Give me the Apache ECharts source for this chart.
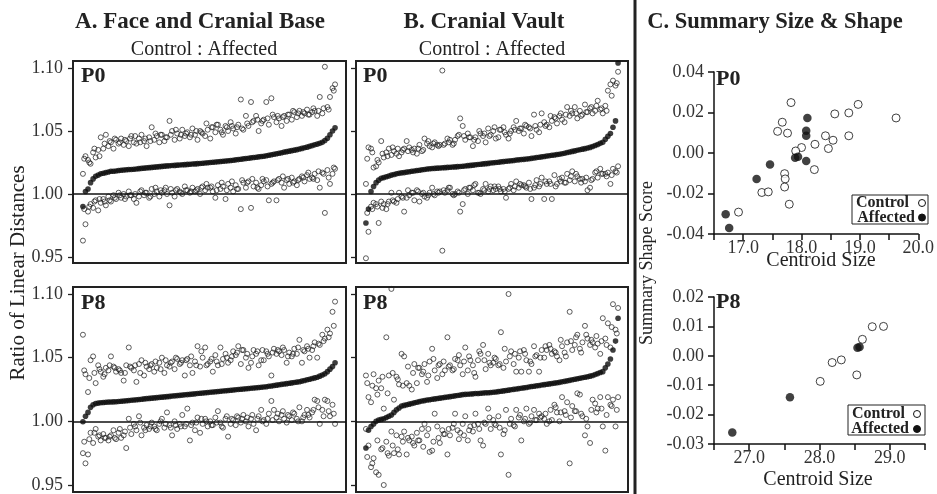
<!DOCTYPE html>
<html>
<head>
<meta charset="utf-8">
<script src="https://cdn.jsdelivr.net/npm/echarts@6/dist/echarts.min.js"></script>
<style>
html,body{margin:0;padding:0;background:#fff;}
#chart{width:937px;height:494px;}
</style>
</head>
<body>
<div id="chart"></div>
<script>
// ---------- Panel A (Face and Cranial Base), P0 ----------
var A0_upper = [1.016,1.030,1.027,1.024,1.033,1.029,1.035,1.045,1.036,1.047,
1.038,1.041,1.036,1.043,1.040,1.044,1.039,1.042,1.038,1.046,
1.041,1.040,1.044,1.047,1.042,1.038,1.045,1.053,1.043,1.046,
1.041,1.047,1.042,1.045,1.058,1.050,1.043,1.048,1.044,1.051,
1.046,1.049,1.045,1.052,1.047,1.043,1.050,1.048,1.046,1.051,
1.044,1.053,1.049,1.055,1.051,1.047,1.054,1.050,1.057,1.052,
1.048,1.055,1.075,1.051,1.062,1.054,1.073,1.058,1.062,1.050,
1.056,1.059,1.073,1.055,1.076,1.061,1.057,1.060,1.054,1.062,
1.058,1.063,1.059,1.065,1.061,1.066,1.062,1.064,1.067,1.063,
1.065,1.066,1.062,1.077,1.064,1.101,1.069,1.077,1.084,1.087];
var A0_upper_b = [1.028,1.025,1.036,1.030,1.040,1.042,1.044,1.041,1.043,1.044,
1.046,1.041,1.044,1.042,1.048,1.047,1.045,1.047,1.051,1.047,
1.048,1.047,1.050,1.049,1.056,1.053,1.055,1.049,1.053,1.054,
1.053,1.052,1.056,1.057,1.059,1.058,1.060,1.063,1.062,1.061,
1.063,1.066,1.064,1.065,1.063,1.068,1.066,1.068,1.067,1.082];
var A0_mid = [0.990,1.002,1.004,1.009,1.012,1.014,1.015,1.016,1.0165,1.017,
1.0175,1.018,1.018,1.0183,1.0186,1.0188,1.019,1.0192,1.0194,1.0195,
1.0197,1.0199,1.0201,1.0203,1.0205,1.0207,1.0209,1.0211,1.0213,1.0215,
1.0217,1.0219,1.0221,1.0223,1.0224,1.0226,1.0227,1.0229,1.023,1.0232,
1.0233,1.0235,1.0236,1.0238,1.0239,1.0241,1.0242,1.0244,1.0246,1.0248,
1.025,1.0252,1.0254,1.0256,1.0258,1.026,1.0262,1.0264,1.0266,1.0268,
1.0271,1.0273,1.0276,1.0279,1.0281,1.0284,1.0287,1.029,1.0292,1.0295,
1.0298,1.03,1.0303,1.0307,1.0311,1.0315,1.0319,1.0323,1.0327,1.0332,
1.0336,1.034,1.0344,1.0348,1.0352,1.0357,1.0362,1.0367,1.0372,1.0378,
1.0384,1.039,1.0396,1.0402,1.041,1.0425,1.0443,1.047,1.050,1.0525];
var A0_lower = [0.963,0.976,0.986,0.992,0.989,0.995,0.987,0.993,0.996,0.991,
0.998,0.994,0.999,0.996,1.001,0.997,1.000,0.998,1.002,0.999,
0.996,0.993,0.998,1.003,0.999,1.001,0.997,1.004,1.000,1.002,
0.998,1.001,1.003,1.000,0.991,1.001,0.998,1.004,1.002,1.000,
1.006,1.003,1.001,1.005,1.002,1.004,1.000,1.006,1.003,1.005,
1.005,1.002,0.997,1.007,1.004,1.006,0.996,1.008,1.005,1.002,
1.007,1.004,0.988,1.009,1.005,1.010,0.989,1.006,1.009,1.004,
1.007,1.010,1.011,0.995,1.008,1.010,0.995,1.012,1.009,1.005,
1.011,1.008,1.013,1.010,1.007,1.012,1.014,1.010,1.015,1.012,
1.013,1.016,1.011,1.005,1.017,0.985,1.019,1.008,1.016,1.020];
var A0_lower_b = [0.988,0.990,0.994,0.996,0.994,0.995,0.997,0.999,0.996,0.999,
1.000,1.002,1.001,0.998,1.005,1.003,1.005,1.004,1.003,1.001,
1.003,1.002,1.003,1.005,1.008,1.006,1.003,1.009,1.003,1.010,
1.004,1.011,1.009,1.012,1.005,1.012,1.006,1.009,1.011,1.014,
1.012,1.009,1.011,1.013,1.017,1.012,1.018,1.016,1.013,1.021];

// ---------- Panel A, P8 ----------
var A8_upper = [1.068,1.037,1.023,1.048,1.051,1.030,1.044,1.039,1.035,1.042,
1.040,1.051,1.043,1.039,1.041,1.038,1.032,1.044,1.058,1.042,
1.040,1.031,1.045,1.048,1.036,1.043,1.041,1.045,1.039,1.042,
1.046,1.050,1.038,1.044,1.043,1.047,1.041,1.049,1.045,1.048,
1.036,1.049,1.044,1.038,1.047,1.059,1.043,1.050,1.058,1.045,
1.047,1.039,1.052,1.044,1.058,1.049,1.053,1.046,1.048,1.055,
1.052,1.059,1.045,1.056,1.050,1.042,1.046,1.056,1.053,1.044,
1.048,1.048,1.055,1.051,1.036,1.057,1.053,1.055,1.052,1.056,
1.046,1.054,1.051,1.057,1.053,1.064,1.046,1.055,1.059,1.050,
1.056,1.062,1.050,1.060,1.068,1.065,1.072,1.069,1.086,1.094];
var A8_upper_b = [1.040,1.034,1.038,1.041,1.037,1.044,1.042,1.040,1.038,1.043,
1.044,1.038,1.046,1.044,1.047,1.041,1.048,1.046,1.050,1.046,
1.048,1.051,1.044,1.055,1.044,1.049,1.047,1.045,1.050,1.051,
1.054,1.056,1.053,1.051,1.055,1.056,1.053,1.054,1.056,1.058,
1.051,1.053,1.058,1.056,1.057,1.059,1.061,1.063,1.066,1.075];
var A8_mid = [0.9997,1.004,1.007,1.011,1.013,1.014,1.0143,1.0146,1.0148,1.015,
1.0151,1.0152,1.0153,1.0154,1.0156,1.0158,1.016,1.0162,1.0164,1.0166,
1.0168,1.017,1.0172,1.0174,1.0176,1.0178,1.018,1.0182,1.0184,1.0186,
1.0188,1.019,1.0192,1.0194,1.0196,1.0198,1.02,1.0202,1.0204,1.0206,
1.0208,1.021,1.0212,1.0214,1.0216,1.0218,1.022,1.0222,1.0224,1.0226,
1.0228,1.023,1.0232,1.0234,1.0236,1.0238,1.024,1.0242,1.0244,1.0246,
1.0248,1.025,1.0252,1.0254,1.0256,1.0258,1.026,1.0262,1.0264,1.0266,
1.0268,1.027,1.0272,1.0275,1.0278,1.0281,1.0284,1.0287,1.029,1.0293,
1.0296,1.0299,1.0302,1.0305,1.0308,1.0311,1.0316,1.0321,1.0326,1.0331,
1.0336,1.0341,1.0346,1.0355,1.0364,1.0374,1.039,1.041,1.043,1.046];
var A8_lower = [0.975,0.967,0.974,0.991,0.983,0.994,0.988,0.985,0.990,0.987,
0.985,0.989,0.993,0.986,0.991,0.987,0.989,0.979,1.002,0.990,
0.998,0.993,1.004,0.989,0.995,0.997,0.994,0.999,0.996,0.993,
0.998,1.002,0.995,1.007,0.997,0.989,1.000,0.994,0.998,1.005,
0.996,1.010,0.985,0.999,0.993,1.003,0.991,0.998,1.002,0.996,
1.000,0.997,1.003,1.008,0.999,0.995,1.002,0.988,0.998,1.001,
0.997,1.003,0.999,1.005,1.000,0.996,1.002,0.998,0.993,1.004,
1.009,1.001,0.998,1.006,1.016,1.009,1.003,1.000,1.005,1.002,
0.999,1.004,1.001,1.006,1.002,1.011,1.000,1.005,1.009,1.003,
1.007,1.017,1.016,0.998,1.009,1.017,1.016,1.004,1.013,0.998];
var A8_lower_b = [0.984,0.986,0.991,0.989,0.987,0.988,0.987,0.994,0.992,0.995,
0.996,0.999,0.993,0.996,0.994,1.000,0.998,0.995,0.997,0.996,
0.998,0.997,0.999,1.002,1.000,0.997,0.999,0.996,1.004,1.002,
1.004,1.002,1.003,1.005,1.002,1.000,1.002,1.001,1.006,1.008,
1.005,1.007,1.000,1.003,1.005,1.009,1.011,1.004,1.008,1.006];

// ---------- Panel B (Cranial Vault), P0 ----------
var B0_upper = [1.008,1.037,1.036,1.021,1.022,1.025,1.042,1.029,1.033,1.036,
1.031,1.034,1.032,1.030,1.033,1.036,1.042,1.037,1.035,1.036,
1.032,1.039,1.034,1.044,1.040,1.038,1.037,1.041,1.039,1.039,
1.098,1.040,1.044,1.043,1.039,1.043,1.046,1.060,1.054,1.043,
1.048,1.045,1.038,1.045,1.042,1.048,1.046,1.041,1.052,1.047,
1.050,1.044,1.045,1.051,1.053,1.047,1.044,1.050,1.053,1.058,
1.050,1.052,1.048,1.054,1.053,1.046,1.063,1.051,1.049,1.064,
1.057,1.055,1.053,1.058,1.061,1.056,1.062,1.059,1.057,1.069,
1.062,1.064,1.069,1.060,1.066,1.063,1.071,1.065,1.068,1.064,
1.066,1.074,1.067,1.064,1.070,1.082,1.087,1.090,1.086,1.097];
var B0_upper_b = [1.028,1.033,1.027,1.032,1.030,1.037,1.036,1.035,1.034,1.033,
1.036,1.035,1.042,1.040,1.038,1.039,1.041,1.040,1.047,1.046,
1.045,1.043,1.050,1.048,1.046,1.053,1.051,1.049,1.048,1.051,
1.052,1.055,1.052,1.054,1.055,1.054,1.062,1.060,1.064,1.063,
1.066,1.064,1.062,1.065,1.069,1.070,1.068,1.066,1.078,1.088];
var B0_mid = [0.977,0.988,1.002,1.006,1.009,1.011,1.0125,1.013,1.0137,1.0143,
1.015,1.0155,1.016,1.0164,1.0168,1.017,1.0174,1.0177,1.018,1.0183,
1.0186,1.0189,1.0192,1.0195,1.0198,1.020,1.0202,1.0203,1.0205,1.0206,
1.0208,1.0209,1.0211,1.0212,1.0214,1.0215,1.0217,1.0218,1.022,1.0222,
1.0225,1.0227,1.0229,1.0232,1.0234,1.0236,1.0239,1.0241,1.0243,1.0246,
1.0248,1.025,1.0252,1.0255,1.0257,1.026,1.0262,1.0264,1.0266,1.0269,
1.0271,1.0273,1.0275,1.0278,1.028,1.0283,1.0286,1.0289,1.0292,1.0295,
1.0298,1.0301,1.0304,1.0307,1.031,1.0313,1.0316,1.032,1.0324,1.0329,
1.0333,1.0338,1.0342,1.0347,1.0351,1.0356,1.036,1.0365,1.037,1.0377,
1.0385,1.0393,1.0402,1.041,1.0435,1.0458,1.048,1.053,1.058,1.104];
var B0_lower = [0.949,0.970,0.990,0.993,0.992,0.977,0.994,0.992,0.988,0.994,
1.001,0.994,0.993,1.001,0.998,0.986,0.997,0.999,1.001,0.995,
1.003,0.994,1.000,0.998,0.997,1.001,1.005,0.999,1.002,1.002,
0.955,1.001,1.003,1.005,1.000,1.000,1.002,0.986,0.992,1.004,
1.000,1.005,1.003,1.008,1.001,1.000,1.004,1.008,1.002,1.006,
1.003,1.004,1.006,1.002,1.004,0.997,1.004,1.008,1.003,1.010,
1.005,1.007,1.007,1.005,1.009,0.996,1.005,1.011,1.006,1.013,
0.996,1.008,1.010,0.996,1.015,1.008,1.012,1.013,1.009,1.016,
1.011,1.018,1.010,1.014,1.012,1.012,1.010,1.003,1.005,1.012,
1.017,1.013,1.020,1.016,1.016,1.017,1.008,1.020,1.018,1.022];
var B0_lower_b = [0.985,0.988,0.990,0.989,0.992,0.995,0.996,0.997,1.003,1.001,
1.002,1.001,0.999,1.000,1.001,1.003,1.005,0.999,1.001,1.003,
1.005,1.007,1.001,1.003,1.004,1.006,1.004,1.002,1.005,1.006,
1.008,1.006,1.004,1.007,1.008,1.010,1.008,1.006,1.010,1.009,
1.014,1.016,1.009,1.013,1.011,1.018,1.016,1.014,1.015,1.017];

// ---------- Panel B, P8 ----------
var B8_upper = [1.036,1.019,1.015,1.037,1.026,1.032,1.026,1.010,1.066,1.036,
1.104,1.017,1.035,1.029,1.053,1.051,1.030,1.028,1.025,1.045,
1.030,1.042,1.037,1.045,1.031,1.047,1.057,1.040,1.034,1.045,
1.037,1.040,1.066,1.044,1.040,1.049,1.048,1.044,1.037,1.058,
1.040,1.048,1.044,1.035,1.048,1.053,1.060,1.041,1.053,1.044,
1.046,1.049,1.044,1.070,1.042,1.047,1.100,1.055,1.045,1.039,
1.050,1.039,1.056,1.048,1.039,1.045,1.059,1.052,1.039,1.056,
1.050,1.056,1.060,1.053,1.055,1.051,1.048,1.059,1.054,1.062,
1.086,1.056,1.060,1.068,1.057,1.062,1.075,1.065,1.060,1.062,
1.058,1.061,1.053,1.081,1.065,1.077,1.058,1.092,1.072,1.089];
var B8_upper_b = [1.030,1.028,1.021,1.035,1.022,1.038,1.033,1.028,1.043,1.038,
1.042,1.039,1.036,1.049,1.044,1.047,1.043,1.041,1.052,1.047,
1.051,1.038,1.055,1.048,1.046,1.050,1.045,1.057,1.051,1.053,
1.055,1.053,1.047,1.051,1.050,1.059,1.057,1.054,1.064,1.051,
1.063,1.066,1.054,1.068,1.064,1.067,1.063,1.060,1.074,1.069];
var B8_mid = [0.979,0.993,0.996,0.998,1.000,1.001,1.0015,1.002,1.003,1.004,
1.005,1.007,1.009,1.0105,1.012,1.0125,1.013,1.0135,1.014,1.0145,
1.015,1.0155,1.016,1.0163,1.0167,1.017,1.0173,1.0176,1.0179,1.0182,
1.0185,1.0188,1.0191,1.0194,1.0197,1.020,1.0203,1.0206,1.021,1.0212,
1.0213,1.0215,1.0216,1.0218,1.0219,1.0221,1.0222,1.0224,1.0225,1.0227,
1.0228,1.023,1.0233,1.0236,1.0239,1.0242,1.0245,1.0248,1.0251,1.0254,
1.0257,1.026,1.0263,1.0266,1.027,1.0273,1.0276,1.0279,1.0282,1.0285,
1.0288,1.0291,1.0294,1.0297,1.030,1.0303,1.0306,1.031,1.0314,1.0318,
1.0322,1.0326,1.033,1.0334,1.0338,1.0342,1.0346,1.035,1.0355,1.036,
1.0367,1.0375,1.0383,1.039,1.042,1.045,1.049,1.056,1.063,1.081];
var B8_lower = [0.994,0.981,0.964,0.971,0.960,0.958,0.978,0.950,0.984,0.973,
0.992,0.975,0.989,0.974,0.988,0.992,0.974,0.985,0.988,0.981,
0.991,0.985,0.994,0.998,0.989,0.976,0.977,1.006,0.996,0.983,
0.993,0.990,0.974,0.989,0.995,1.006,0.993,0.991,0.998,1.004,
0.985,0.996,0.992,1.006,0.998,0.985,0.981,0.998,1.010,0.994,
1.001,0.997,1.004,0.974,0.990,1.009,0.958,1.002,0.997,1.009,
1.003,0.985,1.000,1.010,0.998,1.004,1.009,1.001,1.006,1.004,
1.002,0.998,1.000,1.001,1.013,1.007,1.000,1.019,1.008,1.015,
0.967,1.012,1.008,1.022,1.021,1.004,0.989,0.996,0.983,1.017,
1.014,1.010,1.019,0.996,0.977,1.019,1.013,1.017,0.996,1.019];
var B8_lower_b = [0.972,0.967,0.985,0.979,0.975,0.981,0.978,0.984,0.987,0.983,
0.985,0.980,0.994,0.984,0.987,0.990,0.994,0.998,0.986,0.989,
0.993,0.997,0.994,0.999,1.003,0.998,0.995,0.993,0.998,0.996,
1.005,1.002,0.999,1.001,1.003,1.006,1.009,1.011,1.007,1.005,
1.003,1.008,1.006,1.002,1.009,1.007,1.010,1.005,1.012,1.009];

// ---------- Panel C (Summary size & shape) ----------
var C0_ctrl_x = [17.82,17.67,17.59,17.76,18.57,18.81,18.97,19.62,18.81,18.41,18.54,18.46,18.23,18.00,17.90,18.22,17.71,17.72,17.71,17.79,17.32,17.43,16.92];
var C0_ctrl_y = [0.0249,0.0152,0.0107,0.0098,0.0193,0.0198,0.0240,0.0173,0.0085,0.0085,0.0063,0.0022,0.0043,0.0027,0.0010,-0.0082,-0.0102,-0.0128,-0.0168,-0.0253,-0.0195,-0.0192,-0.0292];
var C0_aff_x = [18.10,18.08,18.08,17.89,17.94,18.08,17.46,17.23,16.70,16.76];
var C0_aff_y = [0.0173,0.0110,0.0085,-0.0023,-0.0018,-0.0040,-0.0057,-0.0128,-0.0302,-0.0370];
var C8_ctrl_x = [28.01,28.18,28.31,28.53,28.61,28.75,28.91];
var C8_ctrl_y = [-0.0087,-0.0023,-0.0014,-0.0065,0.0056,0.0099,0.0100];
var C8_aff_x = [28.54,28.57,27.58,26.76];
var C8_aff_y = [0.0027,0.0030,-0.0141,-0.0261];

var ratioTicks = [0.95, 1.00, 1.05, 1.10];

// ---------- build ----------
var SERIF = '"Liberation Serif","DejaVu Serif",serif';
function idx(arr){ return arr.map(function(v,i){ return [i,v]; }); }
function idxB(arr){ return arr.map(function(v,k){ return [2*k+0.5,v]; }); }
function xy(xs, ys){ return xs.map(function(x,i){ return [x, ys[i]]; }); }

var openStyle = {color:'rgba(255,255,255,0)', borderColor:'#1e1e1e', borderWidth:0.9};
var fillStyle = {color:'#0d0d0d'};

function openS(g, data){
  return {type:'scatter', xAxisIndex:g, yAxisIndex:g, data:data, symbolSize:5, itemStyle:openStyle, clip:false, silent:true};
}
function ratioSeries(g, up, upB, mid, lo, loB){
  return [
    openS(g, idx(up)), openS(g, idxB(upB)), openS(g, idx(lo)), openS(g, idxB(loB)),
    {type:'scatter', xAxisIndex:g, yAxisIndex:g, data:idx(mid), symbolSize:5.6, itemStyle:fillStyle, clip:false, silent:true,
     markLine:{silent:true, symbol:['none','none'], label:{show:false},
       lineStyle:{color:'#111', width:1.6, type:'solid'}, data:[{yAxis:1.0}]}}
  ];
}

function ratioY(g, showLabel){
  return {gridIndex:g, type:'value', min:ratioTicks[0], max:ratioTicks[ratioTicks.length-1], interval:0.05,
    axisLine:{show:false, onZero:false}, splitLine:{show:false},
    axisTick:{show:true, length:5, lineStyle:{color:'#222', width:1.3}},
    axisLabel:{show:showLabel, margin:10, fontFamily:SERIF, fontSize:18, color:'#333',
      formatter:function(v){ return v.toFixed(2); }}};
}
function hideX(g, mn, mx){
  return {gridIndex:g, type:'value', min:mn, max:mx, show:false, splitLine:{show:false}, axisLine:{onZero:false}};
}
function sumX(g, mn, mx){
  return {gridIndex:g, type:'value', min:mn, max:mx, interval:0.5,
    axisLine:{show:true, onZero:false, lineStyle:{color:'#111', width:1.5}},
    axisTick:{show:true, length:6, lineStyle:{color:'#111', width:1.5}},
    splitLine:{show:false},
    axisLabel:{margin:5, fontFamily:SERIF, fontSize:18, color:'#333',
      formatter:function(v){ return Math.abs(v-Math.round(v))<1e-6 ? v.toFixed(1) : ''; }}};
}
function sumY(g, mn, mx, iv){
  return {gridIndex:g, type:'value', min:mn, max:mx, interval:iv,
    axisLine:{show:true, onZero:false, lineStyle:{color:'#111', width:1.5}},
    axisTick:{show:true, length:6, lineStyle:{color:'#111', width:1.5}},
    splitLine:{show:false},
    axisLabel:{margin:10, fontFamily:SERIF, fontSize:18, color:'#333',
      formatter:function(v){ return Math.abs(v)<1e-9 ? '0.00' : v.toFixed(2); }}};
}

function txt(t, x, y, size, bold, align, rot){
  var el = {type:'text', x:x, y:y, silent:true,
    style:{text:t, x:0, y:0, font:(bold?'bold ':'')+size+'px '+SERIF, fill:'#222',
      align:align||'center', verticalAlign:'middle', textAlign:align||'center', textVerticalAlign:'middle'}};
  if (rot) el.rotation = rot;
  return el;
}
function box(x,y,w,h,lw){
  return {type:'rect', silent:true, shape:{x:x,y:y,width:w,height:h},
    style:{fill:'none', stroke:'#222', lineWidth:lw}};
}
function dot(cx,cy,r,filled){
  return {type:'circle', silent:true, shape:{cx:cx,cy:cy,r:r},
    style:{fill:filled?'#111':'#fff', stroke:'#111', lineWidth:1}};
}

var series = [].concat(
  ratioSeries(0, A0_upper, A0_upper_b, A0_mid, A0_lower, A0_lower_b),
  ratioSeries(1, B0_upper, B0_upper_b, B0_mid, B0_lower, B0_lower_b),
  ratioSeries(2, A8_upper, A8_upper_b, A8_mid, A8_lower, A8_lower_b),
  ratioSeries(3, B8_upper, B8_upper_b, B8_mid, B8_lower, B8_lower_b),
  [
    {type:'scatter', xAxisIndex:4, yAxisIndex:4, data:xy(C0_ctrl_x,C0_ctrl_y), symbolSize:8, clip:false, silent:true,
      itemStyle:{color:'#fff', borderColor:'#111', borderWidth:1}},
    {type:'scatter', xAxisIndex:4, yAxisIndex:4, data:xy(C0_aff_x,C0_aff_y), symbolSize:8.5, clip:false, silent:true,
      itemStyle:{color:'#111'}},
    {type:'scatter', xAxisIndex:5, yAxisIndex:5, data:xy(C8_ctrl_x,C8_ctrl_y), symbolSize:8, clip:false, silent:true,
      itemStyle:{color:'#fff', borderColor:'#111', borderWidth:1}},
    {type:'scatter', xAxisIndex:5, yAxisIndex:5, data:xy(C8_aff_x,C8_aff_y), symbolSize:8.5, clip:false, silent:true,
      itemStyle:{color:'#111'}}
  ]
);

var option = {
  animation:false,
  backgroundColor:'#fff',
  grid:[
    {left:73, top:68, width:273, height:189},
    {left:356, top:68, width:272, height:189},
    {left:73, top:294, width:273, height:191},
    {left:356, top:294, width:272, height:191},
    {left:714, top:72, width:213, height:162},
    {left:714, top:297, width:211, height:147}
  ],
  xAxis:[
    hideX(0,-3.9,103.3), hideX(1,-3.9,102.9), hideX(2,-3.9,103.3), hideX(3,-3.9,102.9),
    sumX(4,16.5,20.0), sumX(5,26.5,29.5)
  ],
  yAxis:[
    ratioY(0,true), ratioY(1,false), ratioY(2,true), ratioY(3,false),
    sumY(4,-0.04,0.04,0.02), sumY(5,-0.03,0.02,0.01)
  ],
  series:series,
  graphic:[
    box(73,61,273,202,2), box(356,61,272,202,2), box(73,287,273,205,2), box(356,287,272,205,2),
    {type:'line', silent:true, shape:{x1:635,y1:0,x2:635,y2:494}, style:{stroke:'#222', lineWidth:3}},
    txt('A. Face and Cranial Base', 200, 22, 23, true),
    txt('Control : Affected', 204, 50, 20, false),
    txt('B. Cranial Vault', 484, 22, 23, true),
    txt('Control : Affected', 492, 50, 20, false),
    txt('C. Summary Size & Shape', 775, 22, 22.5, true),
    txt('P0', 81, 76, 22, true, 'left'),
    txt('P0', 363, 76, 22, true, 'left'),
    txt('P8', 81, 303, 22, true, 'left'),
    txt('P8', 363, 303, 22, true, 'left'),
    txt('P0', 716, 79, 22, true, 'left'),
    txt('P8', 716, 302, 22, true, 'left'),
    txt('Ratio of Linear Distances', 18, 273, 21, false, 'center', Math.PI/2),
    txt('Summary Shape Score', 647, 263, 18, false, 'center', Math.PI/2),
    txt('Centroid Size', 821, 261, 20, false),
    txt('Centroid Size', 818, 480, 20, false),
    box(852,195,76,29,1),
    txt('Control', 909, 203, 16, true, 'right'),
    txt('Affected', 915, 217.5, 16, true, 'right'),
    dot(922,203,3.5,false), dot(922,217.5,3.5,true),
    box(848,405,77,30,1),
    txt('Control', 905, 414, 16, true, 'right'),
    txt('Affected', 909, 429, 16, true, 'right'),
    dot(917,414,3.5,false), dot(917,429,3.5,true)
  ]
};

var chart = echarts.init(document.getElementById('chart'), null, {renderer:'canvas'});
chart.setOption(option);
</script>
</body>
</html>
